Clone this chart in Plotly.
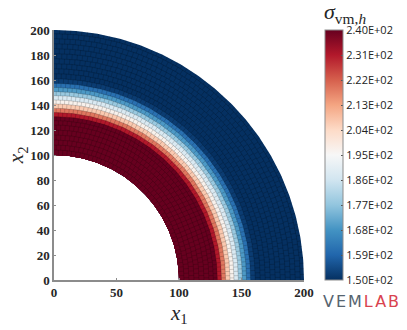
import numpy as np
import plotly.graph_objects as go
from plotly.colors import sample_colorscale

# mesh rings: outer radius of each ring and its stress value
ring_inner = 100
ring_outer = [104, 108, 112, 116, 120, 124, 127.5, 130.7, 134, 137.3, 140.8, 144, 147.5, 150.7,
              154, 157.3, 161, 165, 169, 173, 177, 181, 185, 189, 193, 197, 200]
ring_stress = [240, 240, 240, 240, 240, 240, 240, 240, 231, 219, 207, 197, 188, 178,
               169, 161, 152, 150, 150, 150, 150, 150, 150, 150, 150, 150, 150]
ring_cells = [46, 46, 48, 50, 52, 54, 56, 58, 60, 62, 64, 66, 66, 66,
              66, 66, 66, 66, 66, 66, 66, 68, 68, 68, 70, 70, 70]

cb_ticks = [150, 159, 168, 177, 186, 195, 204, 213, 222, 231, 240]
cb_labels = ["1.50E+02", "1.59E+02", "1.68E+02", "1.77E+02", "1.86E+02", "1.95E+02",
             "2.04E+02", "2.13E+02", "2.22E+02", "2.31E+02", "2.40E+02"]
axis_ticks_x = [0, 50, 100, 150, 200]
axis_ticks_y = [0, 20, 40, 60, 80, 100, 120, 140, 160, 180, 200]

vmin, vmax = 150, 240
scale = "RdBu_r"
grey = "#8c8c8c"
W, H = 407, 330
L, R, T, B = 54, 305, 30, 280


def label(text, px, py, size, angle=0, family="Liberation Serif"):
    # place a text by window pixels
    return dict(text=text, x=(px - L) / (R - L), y=(B - py) / (B - T), xref="paper", yref="paper",
                xanchor="center", yanchor="middle", showarrow=False, textangle=angle,
                font=dict(family=family, size=size, color="#262626"))


fig = go.Figure()
theta = np.linspace(0, np.pi / 2, 181)

# filled bands, outermost first; each reaches down to the hole so no seams show
edges = [ring_inner] + ring_outer
for r1, val in reversed(list(zip(ring_outer, ring_stress))):
    col = sample_colorscale(scale, (val - vmin) / (vmax - vmin))[0]
    xs = np.r_[r1 * np.cos(theta), ring_inner * np.cos(theta[::-1])]
    ys = np.r_[r1 * np.sin(theta), ring_inner * np.sin(theta[::-1])]
    fig.add_trace(go.Scatter(x=xs, y=ys, mode="lines", fill="toself", fillcolor=col,
                             line=dict(width=0), hoverinfo="skip", showlegend=False))

# element edges, staggered from ring to ring like the polygonal mesh
mx, my = [], []
for i, n in enumerate(ring_cells):
    a, b = edges[i], edges[i + 1]
    off = 0.5 if i % 2 else 0.0
    for k in range(n):
        t = (k + off) * np.pi / 2 / n
        mx += [a * np.cos(t), b * np.cos(t), None]
        my += [a * np.sin(t), b * np.sin(t), None]
for r in edges[1:-1]:
    mx += list(r * np.cos(theta)) + [None]
    my += list(r * np.sin(theta)) + [None]
fig.add_trace(go.Scatter(x=mx, y=my, mode="lines", line=dict(color="rgba(0,0,0,0.35)", width=0.5),
                         hoverinfo="skip", showlegend=False))

# colorbar
fig.add_trace(go.Scatter(x=cb_ticks, y=[None] * len(cb_ticks), mode="markers", hoverinfo="skip", showlegend=False,
                         marker=dict(size=1, color=cb_ticks, colorscale=scale, cmin=vmin, cmax=vmax,
                                     colorbar=dict(thickness=18, thicknessmode="pixels",
                                                   len=1, lenmode="fraction",
                                                   x=(325 - L) / (R - L), xanchor="left",
                                                   y=0, yanchor="bottom",
                                                   tickvals=cb_ticks, ticktext=cb_labels,
                                                   ticks="inside", ticklen=2, tickcolor="#555555",
                                                   outlinecolor=grey, outlinewidth=1,
                                                   tickfont=dict(family="Open Sans", size=11, color="#222222"),
                                                   ypad=0, xpad=0))))

axis_style = dict(showgrid=False, zeroline=False, showline=True, linecolor=grey, linewidth=1.5,
                  ticks="inside", ticklen=2, tickcolor=grey,
                  tickfont=dict(family="Liberation Serif", size=13, color="#262626", weight=700))

fig.update_layout(
    width=W, height=H, autosize=False,
    margin=dict(l=L, r=W - R, t=T, b=H - B),
    paper_bgcolor="white", plot_bgcolor="white",
    xaxis=dict(range=[0, 200], tickvals=axis_ticks_x, **axis_style),
    yaxis=dict(range=[0, 200], tickvals=axis_ticks_y, **axis_style),
    annotations=[
        label("<i>x</i><sub>1</sub>", 180, 314, 21),
        label("<i>x</i><sub>2</sub>", 17, 155, 21, angle=-90),
        label("<i>σ</i><sub>vm,<i>h</i></sub>", 346, 13, 22),
        dict(text="<span style='color:#56646f;letter-spacing:2px'>VEM</span>"
                  "<span style='color:#d9434f;letter-spacing:2px'>LAB</span>",
             x=(363 - L) / (R - L), y=(B - 301) / (B - T), xref="paper", yref="paper",
             xanchor="center", yanchor="middle", showarrow=False,
             font=dict(family="DejaVu Sans", size=16)),
    ],
)

fig.write_html("out.html", config=dict(displayModeBar=False),
               post_script="document.body.style.margin='0';")
